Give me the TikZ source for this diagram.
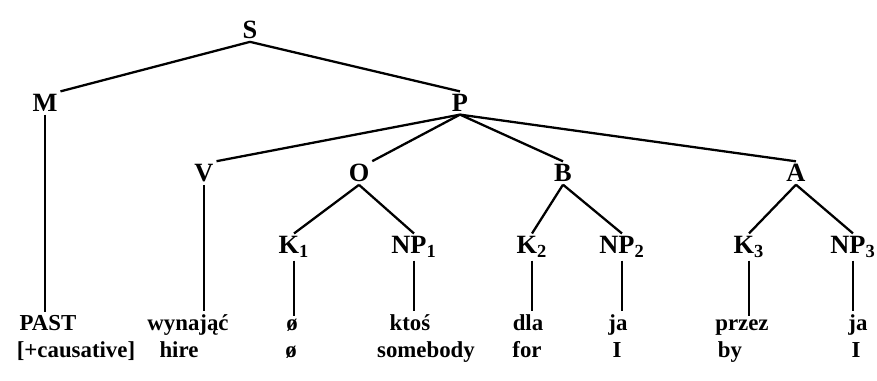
\documentclass[tikz,border=0pt]{standalone}
\usepackage{fontspec}
\setmainfont{Liberation Serif}
\usepackage{tikz}

\begin{document}
\begin{tikzpicture}[x=0.02cm, y=-0.02cm,
    cat/.style={font=\fontsize{15}{17}\selectfont\bfseries, inner sep=1.5pt},
    word/.style={font=\fontsize{13}{15}\selectfont\bfseries, anchor=base, inner sep=1.5pt},
    branch/.style={line width=1.3pt}]
    \useasboundingbox (0,0) rectangle (877,380);

    % categories
    \node [cat] (S) at (250,30) {S};
    \node [cat] (M) at (45,103) {M};
    \node [cat] (P) at (460,103) {P};
    \node [cat] (V) at (204,173) {V};
    \node [cat] (O) at (359,173) {O};
    \node [cat] (B) at (563,173) {B};
    \node [cat] (A) at (796,173) {A};
    \node [cat] (K1) at (294,247) {K\textsubscript{1}};
    \node [cat] (NP1) at (414,247) {NP\textsubscript{1}};
    \node [cat] (K2) at (532,247) {K\textsubscript{2}};
    \node [cat] (NP2) at (622,247) {NP\textsubscript{2}};
    \node [cat] (K3) at (749,247) {K\textsubscript{3}};
    \node [cat] (NP3) at (853,247) {NP\textsubscript{3}};

    \draw [branch] (S.south) -- (M.north east);
    \draw [branch] (S.south) -- (P.north);
    \draw [branch] (P.south) -- (V.north east);
    \draw [branch] (P.south) -- (O.north east);
    \draw [branch] (P.south) -- (B.north);
    \draw [branch] (P.south) -- (A.north);
    \draw [branch] (O.south) -- (K1.north);
    \draw [branch] (O.south) -- (NP1.north);
    \draw [branch] (B.south) -- (K2.north);
    \draw [branch] (B.south) -- (NP2.north);
    \draw [branch] (A.south) -- (K3.north);
    \draw [branch] (A.south) -- (NP3.north);

    % polish words
    \node [word] (wM) at (48,330) {PAST};
    \node [word] (wV) at (188,330) {wynająć};
    \node [word] (wK1) at (292,330) {ø};
    \node [word] (wNP1) at (410,330) {ktoś};
    \node [word] (wK2) at (528,330) {dla};
    \node [word] (wNP2) at (618,330) {ja};
    \node [word] (wK3) at (742,330) {przez};
    \node [word] (wNP3) at (858,330) {ja};

    % english glosses
    \node [word] (gM) at (76,357) {[+causative]};
    \node [word] (gV) at (179,357) {hire};
    \node [word] (gK1) at (291,357) {ø};
    \node [word] (gNP1) at (426,357) {somebody};
    \node [word] (gK2) at (527,357) {for};
    \node [word] (gNP2) at (617,357) {I};
    \node [word] (gK3) at (730,357) {by};
    \node [word] (gNP3) at (856,357) {I};

    \draw [branch] (M.south) -- (M.south |- wM.north);
    \draw [branch] (V.south) -- (V.south |- wV.north);
    \draw [branch] (K1.south) -- (K1.south |- wK1.north);
    \draw [branch] (NP1.south) -- (NP1.south |- wNP1.north);
    \draw [branch] (K2.south) -- (K2.south |- wK2.north);
    \draw [branch] (NP2.south) -- (NP2.south |- wNP2.north);
    \draw [branch] (K3.south) -- (K3.south |- wK3.north);
    \draw [branch] (NP3.south) -- (NP3.south |- wNP3.north);
\end{tikzpicture}
\end{document}
